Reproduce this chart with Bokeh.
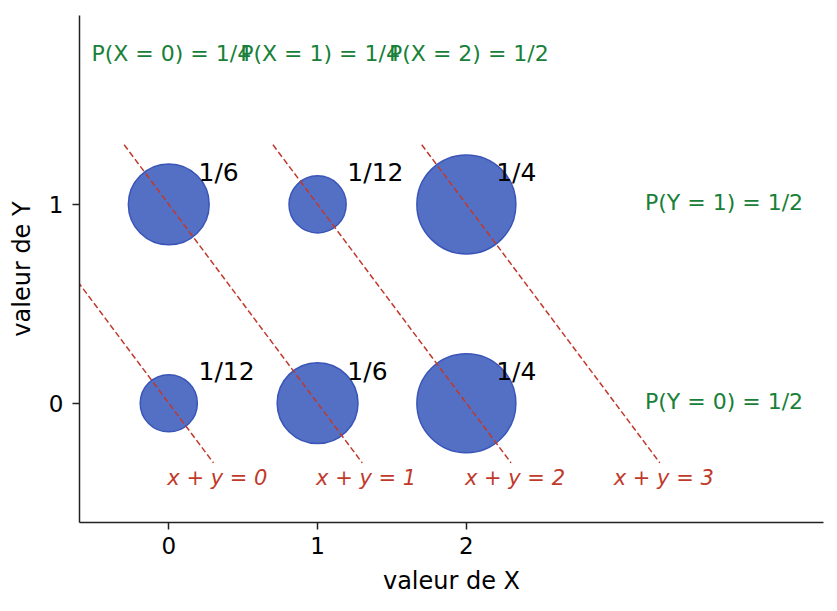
from bokeh.plotting import figure
from bokeh.models import ColumnDataSource
from bokeh.core.properties import value
from bokeh.embed import file_html
from bokeh.resources import INLINE
import numpy as np

# joint law of (X, Y)
x_vals = [0, 1, 2, 0, 1, 2]
y_vals = [0, 0, 0, 1, 1, 1]
probs = [1 / 12, 1 / 6, 1 / 4, 1 / 6, 1 / 12, 1 / 4]
prob_labels = ["1/12", "1/6", "1/4", "1/6", "1/12", "1/4"]

# marginals
x_marg = [0, 1, 2]
x_marg_labels = ["P(X = 0) = 1/4", "P(X = 1) = 1/4", "P(X = 2) = 1/2"]
y_marg = [0, 1]
y_marg_labels = ["P(Y = 0) = 1/2", "P(Y = 1) = 1/2"]

# lines x + y = s
sums = [0, 1, 2, 3]
sum_labels = ["x + y = 0", "x + y = 1", "x + y = 2", "x + y = 3"]

BLUE = "#5470c4"
BLUE_EDGE = "#3a55b8"
RED = "#c0392b"
GREEN = "#188038"
FONT = "DejaVu Sans"

p = figure(width=829, height=603, x_range=(-0.6, 4.4), y_range=(-0.6, 1.95),
           output_backend="svg", toolbar_location=None,
           min_border_left=79, min_border_right=6, min_border_top=15, min_border_bottom=81)

# points, area proportional to probability
pts = ColumnDataSource(dict(x=x_vals, y=y_vals, size=[198 * np.sqrt(v) for v in probs],
                            lab=prob_labels,
                            lx=[v + 0.2 for v in x_vals], ly=[v + 0.16 for v in y_vals]))
p.scatter("x", "y", size="size", source=pts, fill_color=BLUE, fill_alpha=1.0,
          line_color=BLUE_EDGE, line_width=1.5)

# dashed lines
for s in sums:
    p.line([s - 1.3, s + 0.3], [1.3, -0.3], line_color=RED, line_width=1.5, line_dash="6 3")

p.text("lx", "ly", text="lab", source=pts, text_font=value(FONT), text_font_size="25px",
       text_color="black", text_baseline="middle", text_align="left")

p.text([s - 0.01 for s in sums], [-0.375] * len(sums), text=sum_labels,
       text_font=value(FONT), text_font_size="21px", text_font_style="italic",
       text_color=RED, text_baseline="middle", text_align="left")

p.text([k - 0.52 for k in x_marg], [1.76] * len(x_marg), text=x_marg_labels,
       text_font=value(FONT), text_font_size="22px",
       text_color=GREEN, text_baseline="middle", text_align="left")

p.text([3.2] * len(y_marg), [k + 0.01 for k in y_marg], text=y_marg_labels,
       text_font=value(FONT), text_font_size="22px",
       text_color=GREEN, text_baseline="middle", text_align="left")

# matplotlib-like axes
p.xgrid.grid_line_color = None
p.ygrid.grid_line_color = None
p.outline_line_color = None
p.xaxis.ticker = [0, 1, 2]
p.yaxis.ticker = [0, 1]
p.xaxis.axis_label = "valeur de X"
p.yaxis.axis_label = "valeur de Y"
for ax in (p.xaxis, p.yaxis):
    ax.minor_tick_line_color = None
    ax.major_tick_in = 0
    ax.major_tick_out = 7
    ax.major_tick_line_width = 1.5
    ax.axis_line_width = 1.5
    ax.axis_line_color = "#222222"
    ax.major_tick_line_color = "#222222"
    ax.major_label_text_font = FONT
    ax.major_label_text_font_size = "23px"
    ax.major_label_text_color = "black"
    ax.axis_label_text_font = FONT
    ax.axis_label_text_font_size = "24px"
    ax.axis_label_text_font_style = "normal"
    ax.axis_label_text_color = "black"
p.xaxis.major_label_standoff = 7
p.yaxis.major_label_standoff = 9
p.xaxis.axis_label_standoff = 10
p.yaxis.axis_label_standoff = 10

open("out.html", "w").write(file_html(p, INLINE))
